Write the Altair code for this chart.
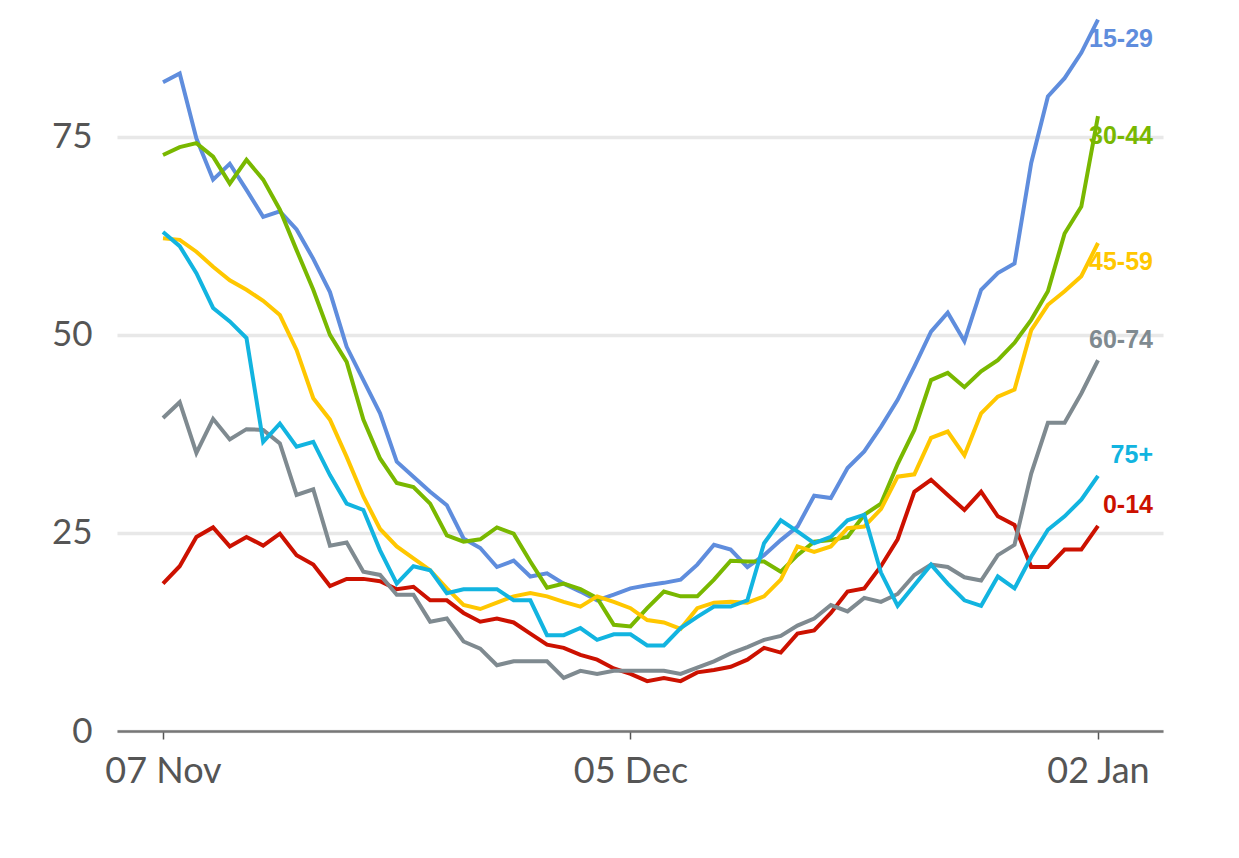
import altair as alt
import pandas as pd

start_date = "2021-11-07"
end_date = "2022-01-02"

series_names = ["0-14", "15-29", "30-44", "45-59", "60-74", "75+"]
series_colors = ["#cc1100", "#5f8ddd", "#79b800", "#ffc700", "#7f8a90", "#12b4e0"]

age_0_14 = [18.6, 20.8, 24.5, 25.7, 23.3, 24.5, 23.4, 24.9, 22.2, 21.0,
            18.3, 19.2, 19.2, 18.9, 17.9, 18.2, 16.5, 16.5, 14.9, 13.8,
            14.2, 13.7, 12.3, 10.9, 10.5, 9.6, 9.0, 7.9, 7.2, 6.3,
            6.7, 6.3, 7.4, 7.7, 8.1, 9.0, 10.5, 9.9, 12.3, 12.7,
            14.9, 17.6, 18.0, 20.8, 24.2, 30.2, 31.7, 29.8, 27.9, 30.2,
            27.1, 26.0, 20.7, 20.7, 22.9, 22.9, 25.9]
age_15_29 = [81.9, 83.0, 74.8, 69.6, 71.6, 68.3, 64.9, 65.6, 63.3, 59.6,
             55.4, 48.5, 44.3, 40.1, 34.0, 32.1, 30.2, 28.5, 24.3, 23.1,
             20.7, 21.5, 19.5, 19.9, 18.6, 17.6, 16.5, 17.2, 18.0, 18.4,
             18.7, 19.1, 21.0, 23.5, 22.9, 20.7, 22.2, 24.1, 25.8, 29.7,
             29.4, 33.2, 35.3, 38.4, 41.8, 46.0, 50.4, 52.8, 49.2, 55.7,
             57.8, 59.0, 71.7, 80.1, 82.4, 85.6, 89.8]
age_30_44 = [72.7, 73.7, 74.2, 72.5, 69.1, 72.1, 69.6, 65.8, 60.7, 55.7,
             50.0, 46.6, 39.3, 34.4, 31.3, 30.8, 28.7, 24.7, 23.9, 24.2,
             25.7, 24.9, 21.4, 18.1, 18.6, 17.9, 16.8, 13.4, 13.2, 15.5,
             17.6, 17.0, 17.0, 19.1, 21.5, 21.4, 21.4, 20.1, 22.2, 23.9,
             24.1, 24.5, 27.3, 28.7, 33.7, 38.0, 44.3, 45.2, 43.4, 45.4,
             46.8, 49.0, 51.9, 55.5, 62.8, 66.2, 77.6]
age_45_59 = [62.2, 62.0, 60.5, 58.6, 56.9, 55.7, 54.3, 52.5, 48.1, 42.0,
             39.3, 34.6, 29.6, 25.5, 23.3, 21.8, 20.3, 18.0, 15.9, 15.4,
             16.2, 17.0, 17.4, 17.0, 16.3, 15.7, 17.0, 16.3, 15.5, 14.0,
             13.7, 12.9, 15.5, 16.2, 16.3, 16.2, 17.0, 19.1, 23.3, 22.6,
             23.3, 25.6, 25.8, 28.0, 32.1, 32.4, 37.0, 37.8, 34.8, 40.1,
             42.2, 43.1, 50.6, 53.8, 55.5, 57.4, 61.6]
age_60_74 = [39.5, 41.5, 35.1, 39.4, 36.8, 38.1, 38.0, 36.3, 29.8, 30.5,
             23.4, 23.8, 20.1, 19.7, 17.2, 17.2, 13.8, 14.2, 11.3, 10.4,
             8.3, 8.8, 8.8, 8.8, 6.7, 7.6, 7.2, 7.6, 7.6, 7.6,
             7.6, 7.2, 8.0, 8.8, 9.8, 10.6, 11.5, 12.0, 13.3, 14.2,
             15.9, 15.1, 16.8, 16.3, 17.3, 19.7, 21.0, 20.7, 19.4, 19.0,
             22.2, 23.5, 32.5, 38.9, 38.9, 42.6, 46.8]
age_75_plus = [63.0, 61.2, 57.8, 53.4, 51.7, 49.6, 36.5, 38.8, 35.9, 36.5,
               32.3, 28.7, 27.9, 22.8, 18.6, 20.8, 20.3, 17.4, 17.9, 17.9,
               17.9, 16.5, 16.5, 12.1, 12.1, 13.0, 11.5, 12.2, 12.2, 10.8,
               10.8, 13.0, 14.4, 15.7, 15.7, 16.5, 23.7, 26.6, 25.2, 23.7,
               24.5, 26.6, 27.3, 20.0, 15.8, 18.4, 21.0, 18.6, 16.5, 15.8,
               19.5, 18.0, 22.0, 25.4, 27.1, 29.2, 32.2]

y_ticks = [0, 25, 50, 75]
x_tick_dates = [(2021, 11, 7), (2021, 12, 5), (2022, 1, 2)]
labels_above = ["15-29", "30-44", "45-59"]

dates = pd.date_range(start_date, end_date, freq="D")
all_values = [age_0_14, age_15_29, age_30_44, age_45_59, age_60_74, age_75_plus]
frames = []
for name, vals in zip(series_names, all_values):
    frames.append(pd.DataFrame({"date": dates, "value": vals, "group": name,
                                "order": series_names.index(name)}))
df = pd.concat(frames, ignore_index=True)

color_scale = alt.Scale(domain=series_names, range=series_colors)

x_enc = alt.X(
    "date:T",
    scale=alt.Scale(domain=[alt.DateTime(year=2021, month=11, date=4, hours=5, minutes=53),
                            alt.DateTime(year=2022, month=1, date=5, hours=21, minutes=26)]),
    axis=alt.Axis(
        values=[alt.DateTime(year=y, month=m, date=d) for (y, m, d) in x_tick_dates],
        format="%d %b", title=None, grid=False,
        labelFont="Lato", labelFontSize=36, labelColor="#555555",
        labelPadding=15, tickSize=8, tickColor="#555555", tickWidth=1.5,
        domainColor="#777777", domainWidth=2.5, labelFlush=False,
    ),
)
y_enc = alt.Y(
    "value:Q",
    scale=alt.Scale(domain=[0, 90], nice=False),
    axis=alt.Axis(
        values=y_ticks, title=None, domain=False, ticks=False,
        labelFont="Lato", labelFontSize=35, labelColor="#555555",
        labelPadding=25, gridColor="#e8e8e8", gridWidth=3.5,
    ),
)

lines = alt.Chart(df).mark_line(strokeWidth=4).encode(
    x=x_enc, y=y_enc,
    color=alt.Color("group:N", scale=color_scale, legend=None),
    detail="group:N",
    order=alt.Order("order:Q"),
)

last = df[df["date"] == df["date"].max()]
lab_above = last[last["group"].isin(labels_above)]
lab_below = last[~last["group"].isin(labels_above)]

text_common = dict(align="right", baseline="middle", dx=55,
                   font="Liberation Sans", fontWeight="bold", fontSize=25)

t1 = alt.Chart(lab_above).mark_text(dy=19.5, **text_common).encode(
    x="date:T", y="value:Q", text="group:N",
    color=alt.Color("group:N", scale=color_scale, legend=None),
)
t2 = alt.Chart(lab_below).mark_text(dy=-20.5, **text_common).encode(
    x="date:T", y="value:Q", text="group:N",
    color=alt.Color("group:N", scale=color_scale, legend=None),
)

chart = alt.layer(lines, t1, t2).properties(
    width=1046, height=713,
    autosize=alt.AutoSizeParams(type="none"),
    padding={"left": 109, "top": 10, "right": 68, "bottom": 90},
    background="white",
).configure_view(strokeWidth=0, stroke="transparent")

chart.save("out.html", embed_options={"renderer": "svg", "actions": False})
